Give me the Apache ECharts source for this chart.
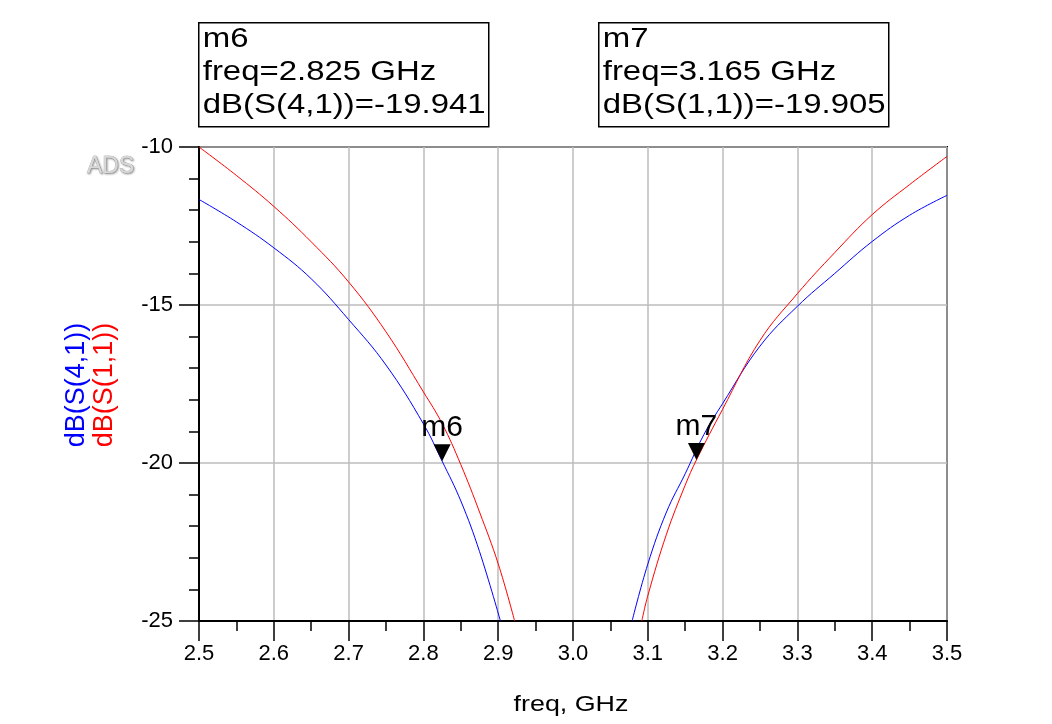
<!DOCTYPE html>
<html>
<head>
<meta charset="utf-8">
<script src="https://cdn.jsdelivr.net/npm/echarts@6/dist/echarts.min.js"></script>
<style>
  html, body { margin: 0; padding: 0; background: #fff; }
  #chart { width: 1052px; height: 724px; }
</style>
</head>
<body>
<div id="chart"></div>
<script>
// traces: [freq GHz, dB]
const s41Low = [[2.5, -11.66], [2.55, -12.37], [2.6, -13.19], [2.65, -14.17], [2.7, -15.46], [2.75, -16.9],
  [2.8, -18.76], [2.825, -19.94], [2.85, -21.2], [2.875, -22.8], [2.903, -25]];
const s41High = [[3.079, -25], [3.1, -23.2], [3.125, -21.55], [3.15, -20.34], [3.175, -19.1], [3.2, -18.12],
  [3.25, -16.3], [3.3, -15.04], [3.35, -14.0], [3.4, -12.99], [3.45, -12.16], [3.5, -11.53]];
const s11Low = [[2.5, -10.0], [2.55, -10.9], [2.6, -11.88], [2.65, -13.0], [2.7, -14.27], [2.75, -15.85],
  [2.8, -17.75], [2.825, -18.75], [2.85, -20.05], [2.875, -21.55], [2.9, -23.19], [2.922, -25]];
const s11High = [[3.092, -25], [3.1, -24.2], [3.125, -22.25], [3.15, -20.7], [3.165, -19.905], [3.2, -18.3],
  [3.25, -16.12], [3.3, -14.64], [3.35, -13.34], [3.4, -12.14], [3.45, -11.19], [3.5, -10.3]];

// markers
const markerNames = ['m6', 'm7'];
const markerFreq = [2.825, 3.165];
const markerDb = [-19.941, -19.905];
const markerTrace = ['dB(S(4,1))', 'dB(S(1,1))'];

const FONT = 'Liberation Sans, Arial, sans-serif';

let chart = echarts.init(document.getElementById('chart'));

function lineSeries(data, color) {
  return {
    type: 'line',
    data: data,
    showSymbol: false,
    smooth: 0.4,
    lineStyle: { color: color, width: 1 },
    silent: true,
    animation: false
  };
}

// readout boxes above the plot
function markerBox(i, left) {
  return {
    type: 'group',
    left: left,
    top: 22,
    children: [
      {
        type: 'rect',
        shape: { x: 0, y: 0, width: 290, height: 104 },
        style: { fill: '#fff', stroke: '#000', lineWidth: 1.5 }
      },
      {
        type: 'text',
        x: 4,
        y: 0,
        scaleX: 1.22,
        style: {
          text: markerNames[i] + '\nfreq=' + markerFreq[i].toFixed(3) + ' GHz\n' +
            markerTrace[i] + '=' + markerDb[i].toFixed(3),
          font: '27px ' + FONT,
          lineHeight: 33,
          fill: '#000'
        }
      }
    ]
  };
}

let option = {
  backgroundColor: '#fff',
  animation: false,
  grid: {
    left: 199,
    right: 105,
    top: 147,
    bottom: 103,
    show: true,
    borderColor: '#000',
    borderWidth: 2,
    backgroundColor: '#fff'
  },
  xAxis: {
    type: 'value',
    min: 2.5,
    max: 3.5,
    interval: 0.1,
    axisLine: { lineStyle: { color: '#000', width: 2 } },
    axisTick: { length: 20, lineStyle: { color: '#000', width: 1.5 } },
    minorTick: { show: true, splitNumber: 2, length: 10, lineStyle: { color: '#000', width: 1.5 } },
    splitLine: { show: true, lineStyle: { color: '#bdbdbd', width: 1.5 } },
    axisLabel: {
      margin: 22,
      fontSize: 22,
      fontFamily: FONT,
      color: '#000',
      formatter: v => v.toFixed(1)
    }
  },
  yAxis: {
    type: 'value',
    min: -25,
    max: -10,
    interval: 5,
    axisLine: { show: true, lineStyle: { color: '#000', width: 2 } },
    axisTick: { show: true, length: 20, lineStyle: { color: '#000', width: 1.5 } },
    minorTick: { show: true, splitNumber: 5, length: 10, lineStyle: { color: '#000', width: 1.5 } },
    splitLine: { show: true, lineStyle: { color: '#bdbdbd', width: 1.5 } },
    axisLabel: {
      margin: 26,
      fontSize: 22,
      fontFamily: FONT,
      color: '#000'
    }
  },
  graphic: [
    markerBox(0, 198),
    markerBox(1, 598),
    {
      type: 'text',
      x: 87,
      y: 155,
      style: {
        text: 'ADS',
        font: '23px ' + FONT,
        fill: '#d8d8d8',
        stroke: '#a0a0a0',
        lineWidth: 0.5,
        textShadowColor: 'rgba(0,0,0,0.35)',
        textShadowBlur: 2,
        textShadowOffsetX: 1,
        textShadowOffsetY: 1
      }
    },
    {
      type: 'text',
      x: 571,
      y: 694,
      scaleX: 1.22,
      style: { text: 'freq, GHz', font: '22px ' + FONT, fill: '#000', textAlign: 'center' }
    },
    {
      type: 'text',
      x: 77,
      y: 385,
      rotation: Math.PI / 2,
      style: { text: markerTrace[0], font: '27px ' + FONT, fill: '#0000ff', textAlign: 'center', textVerticalAlign: 'middle' }
    },
    {
      type: 'text',
      x: 105,
      y: 385,
      rotation: Math.PI / 2,
      style: { text: markerTrace[1], font: '27px ' + FONT, fill: '#ff0000', textAlign: 'center', textVerticalAlign: 'middle' }
    }
  ],
  series: [
    lineSeries(s41Low, '#0000ff'),
    lineSeries(s41High, '#0000ff'),
    lineSeries(s11Low, '#ff0000'),
    lineSeries(s11High, '#ff0000'),
    {
      type: 'scatter',
      data: markerFreq.map((f, i) => [f, markerDb[i]]),
      symbol: 'triangle',
      symbolRotate: 180,
      symbolSize: [17, 17],
      symbolOffset: [0, -8.5],
      itemStyle: { color: '#000', opacity: 1 },
      label: {
        show: true,
        position: 'top',
        distance: 1,
        formatter: p => markerNames[p.dataIndex],
        fontSize: 30,
        fontFamily: FONT,
        color: '#000'
      },
      z: 5,
      silent: true
    }
  ]
};

chart.setOption(option);
</script>
</body>
</html>
